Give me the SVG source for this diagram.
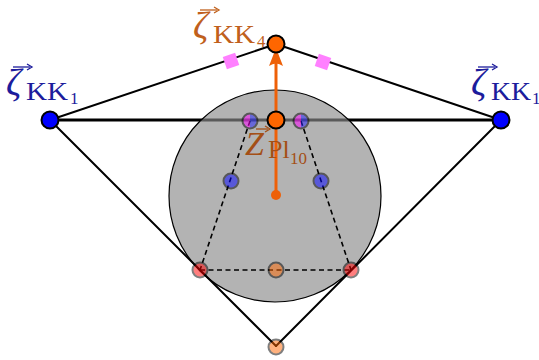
<svg xmlns="http://www.w3.org/2000/svg" width="539" height="360" viewBox="0 0 539 360">
<style>
.ln{stroke:#000;stroke-width:2;fill:none;stroke-linecap:round}
.dash{stroke:#000;stroke-width:1.6;fill:none;stroke-dasharray:5 3.5}
.tr{opacity:0.5}
.tr circle{stroke:#000;stroke-width:2}
.big{font-family:"Liberation Serif",serif;font-style:italic;font-size:38px}
.sub{font-family:"Liberation Serif",serif;font-size:26px}
.sub2{font-family:"Liberation Serif",serif;font-size:17px}
.blue{fill:#1c1c9c}
.org{fill:#c0601c}
.brn{fill:#a44f16}
.acc{stroke-width:1.3;fill:none}
.sq{fill:#ff80ff}
</style>

<g id="edges">
<line class="ln" x1="50" y1="120" x2="501" y2="120" style="stroke-width:3"/>
</g>

<g id="disk">
<circle cx="275" cy="196" r="106" fill="#8a8a8a" fill-opacity="0.65" stroke="#000" stroke-width="1.2"/>
</g>

<g id="connectors">
<line class="ln" x1="50" y1="120" x2="276" y2="44"/>
<line class="ln" x1="276" y1="44" x2="501" y2="120"/>
<line class="ln" x1="50" y1="120" x2="276" y2="346"/>
<line class="ln" x1="501" y1="120" x2="276" y2="346"/>
<line class="dash" x1="250" y1="121" x2="200" y2="270"/>
<line class="dash" x1="301" y1="121" x2="351" y2="270"/>
<line class="dash" x1="200" y1="270" x2="351" y2="270"/>
<line x1="276" y1="195" x2="276" y2="62" stroke="#ee6008" stroke-width="3"/>
<path d="M276,48 L283,66 Q276,61 269,66 Z" fill="#ee6008"/>
</g>

<g id="sq-left"><rect class="sq" x="-6.5" y="-6.5" width="13" height="13" transform="translate(231,61) rotate(-18.6)"/></g>
<g id="sq-right"><rect class="sq" x="-6.5" y="-6.5" width="13" height="13" transform="translate(323,62) rotate(18.7)"/></g>

<g id="n-kk1-left"><circle cx="50" cy="120" r="8.5" fill="#0000ff" stroke="#000" stroke-width="2"/></g>
<g id="n-kk1-right"><circle cx="501" cy="120" r="8.5" fill="#0000ff" stroke="#000" stroke-width="2"/></g>
<g id="n-kk4"><circle cx="276" cy="44" r="8.5" fill="#ff6600" stroke="#000" stroke-width="2"/></g>
<g id="n-z"><circle cx="276" cy="120" r="8.5" fill="#ff6600" stroke="#000" stroke-width="2"/></g>
<g id="n-base"><circle cx="276" cy="195" r="5" fill="#ee6008"/></g>

<g id="n-mb-left" class="tr">
<path d="M250,113.5 A7.5,7.5 0 0 0 250,128.5 Z" fill="#ff00ff"/>
<path d="M250,113.5 A7.5,7.5 0 0 1 250,128.5 Z" fill="#2020ff"/>
<circle cx="250" cy="121" r="7.5" fill="none"/>
</g>
<g id="n-mb-right" class="tr">
<path d="M301,113.5 A7.5,7.5 0 0 0 301,128.5 Z" fill="#ff00ff"/>
<path d="M301,113.5 A7.5,7.5 0 0 1 301,128.5 Z" fill="#2020ff"/>
<circle cx="301" cy="121" r="7.5" fill="none"/>
</g>
<g id="n-b-left" class="tr"><circle cx="231" cy="181" r="7.5" fill="#0000ff"/></g>
<g id="n-b-right" class="tr"><circle cx="321" cy="181" r="7.5" fill="#0000ff"/></g>
<g id="n-r-left" class="tr"><circle cx="200" cy="270" r="7.5" fill="#ff0000"/></g>
<g id="n-r-right" class="tr"><circle cx="351" cy="270" r="7.5" fill="#ff0000"/></g>
<g id="n-o-mid" class="tr"><circle cx="276" cy="270" r="7.5" fill="#ff6600"/></g>
<g id="n-o-bot" class="tr"><circle cx="276" cy="347" r="7.5" fill="#ff6600"/></g>

<g id="lbl-left" class="blue">
<line class="acc" x1="13" y1="67" x2="30" y2="67" stroke="#1c1c9c"/>
<path d="M27,64 L32,67 L27,70" class="acc" stroke="#1c1c9c"/>
<text class="big" x="6" y="95">ζ</text>
<text class="sub" x="26" y="100" textLength="42" lengthAdjust="spacingAndGlyphs">KK</text>
<text class="sub2" x="70" y="104">1</text>
</g>
<g id="lbl-right" class="blue">
<line class="acc" x1="478" y1="67" x2="495" y2="67" stroke="#1c1c9c"/>
<path d="M492,64 L497,67 L492,70" class="acc" stroke="#1c1c9c"/>
<text class="big" x="471" y="95">ζ</text>
<text class="sub" x="491" y="100" textLength="40" lengthAdjust="spacingAndGlyphs">KK</text>
<text class="sub2" x="532" y="104">1</text>
</g>
<g id="lbl-top" class="org">
<line class="acc" x1="200" y1="10" x2="217" y2="10" stroke="#c0601c"/>
<path d="M214,7 L219,10 L214,13" class="acc" stroke="#c0601c"/>
<text class="big" x="193" y="38">ζ</text>
<text class="sub" x="213" y="43" textLength="42" lengthAdjust="spacingAndGlyphs">KK</text>
<text class="sub2" x="257" y="47">4</text>
</g>
<g id="lbl-z" class="brn">
<line class="acc" x1="256" y1="129" x2="268" y2="129" stroke="#a44f16"/>
<path d="M265,126 L270,129 L265,132" class="acc" stroke="#a44f16"/>
<text class="big" x="245" y="155" style="font-size:34px">Z</text>
<text class="sub" x="268" y="158">Pl</text>
<text class="sub2" x="290" y="164">10</text>
</g>
</svg>
